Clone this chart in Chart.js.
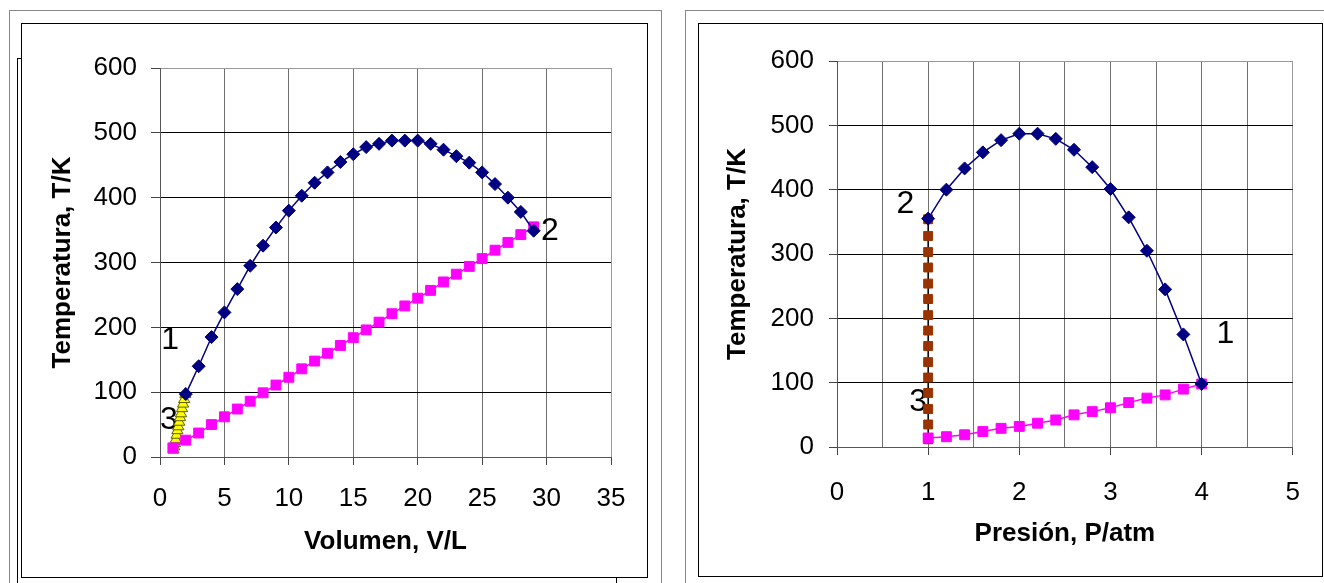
<!DOCTYPE html>
<html>
<head>
<meta charset="UTF-8">
<title>Temperatura frente a Volumen y Presión</title>
<script src="https://cdn.jsdelivr.net/npm/chart.js"></script>
<style>
    body { margin: 0; background: #fff; width: 1324px; height: 583px; overflow: hidden; position: relative; }
    .box { position: absolute; box-sizing: border-box; background: #fff; }
    canvas { position: absolute; }
</style>
</head>
<body>
<div class="box" style="left:9px;top:10px;width:653px;height:620px;border:1px solid #888"></div>
<div class="box" style="left:17px;top:58px;width:600px;height:600px;border:1px solid #000"></div>
<div class="box" style="left:21px;top:23px;width:627px;height:555px;border:1px solid #000"></div>
<div class="box" style="left:685px;top:10px;width:700px;height:620px;border:1px solid #888"></div>
<div class="box" style="left:698px;top:23px;width:625px;height:554px;border:1px solid #000"></div>
<canvas id="volChart" width="624" height="553" style="left:22px;top:24px"></canvas>
<canvas id="presChart" width="623" height="552" style="left:699px;top:24px"></canvas>

<script>
// --- datos ---
// grafica izquierda: T frente a V
var volBlueV = [2, 3, 4, 5, 6, 7, 8, 9, 10, 11, 12, 13, 14, 15, 16, 17, 18, 19, 20, 21, 22, 23, 24, 25, 26, 27, 28, 29];
var volBlueT = [97, 140, 185, 223, 259, 295, 326, 354, 380, 403, 423, 439, 455, 467, 478, 483, 488, 488, 488, 483, 474, 464, 454, 439, 421, 400, 378, 349];
var volPinkV = [1, 2, 3, 4, 5, 6, 7, 8, 9, 10, 11, 12, 13, 14, 15, 16, 17, 18, 19, 20, 21, 22, 23, 24, 25, 26, 27, 28, 29];
var volPinkT = [14, 26, 37, 50, 62, 74, 86, 99, 111, 123, 136, 148, 160, 172, 184, 196, 208, 221, 233, 245, 257, 270, 282, 294, 306, 319, 331, 343, 355];
var volYellowV = [1.05, 1.1, 1.16, 1.22, 1.29, 1.35, 1.42, 1.49, 1.56, 1.63, 1.71, 1.79, 1.88, 1.97];
var volYellowT = [11, 16, 21, 27, 34, 41, 47, 54, 61, 67, 75, 82, 89, 97];
var volLabels = [{ text: '1', x: 0.78, y: 180 }, { text: '2', x: 30.25, y: 348 }, { text: '3', x: 0.7, y: 57 }];

// grafica derecha: T frente a P
var presBlueP = [1, 1.2, 1.4, 1.6, 1.8, 2, 2.2, 2.4, 2.6, 2.8, 3, 3.2, 3.4, 3.6, 3.8, 4];
var presBlueT = [355, 400, 433, 458, 477, 487, 487, 479, 462, 435, 401, 357, 305, 245, 175, 98];
var presPinkP = [1, 1.2, 1.4, 1.6, 1.8, 2, 2.2, 2.4, 2.6, 2.8, 3, 3.2, 3.4, 3.6, 3.8, 4];
var presPinkT = [14, 16, 19, 24, 29, 32, 37, 42, 50, 55, 61, 69, 76, 81, 90, 98];
var presBrownP = [1, 1, 1, 1, 1, 1, 1, 1, 1, 1, 1, 1, 1, 1, 1];
var presBrownT = [354, 328, 303, 279, 254, 230, 205, 181, 157, 132, 108, 84, 59, 35, 12];
var presLabels = [{ text: '2', x: 0.75, y: 377 }, { text: '1', x: 4.26, y: 175 }, { text: '3', x: 0.89, y: 70 }];

// ejes
var tempMax = 600, tempStep = 100;
var volMax = 35, volStep = 5;
var presMax = 5, presStep = 0.5;

var FONT = '"Liberation Sans", Arial, sans-serif';

function pts(xs, ys) {
    var out = [];
    for (var i = 0; i < xs.length; i++) out.push({ x: xs[i], y: ys[i] });
    return out;
}

var numberLabels = {
    id: 'numberLabels',
    beforeDatasetsDraw: function (chart, args, opts) {
        var ctx = chart.ctx, sx = chart.scales.x, sy = chart.scales.y;
        ctx.save();
        ctx.font = '32px ' + FONT;
        ctx.fillStyle = '#000';
        ctx.textAlign = 'center';
        ctx.textBaseline = 'middle';
        opts.items.forEach(function (it) {
            ctx.fillText(it.text, sx.getPixelForValue(it.x), sy.getPixelForValue(it.y));
        });
        ctx.restore();
    }
};

function makeOptions(o) {
    return {
        responsive: false,
        animation: false,
        layout: { padding: { top: o.padTop, right: o.padRight, left: 0, bottom: 0 } },
        plugins: {
            legend: { display: false },
            tooltip: { enabled: false },
            numberLabels: { items: o.labels }
        },
        scales: {
            x: {
                type: 'linear', min: 0, max: o.xMax,
                afterFit: function (s) { s.height = o.xHeight; },
                ticks: {
                    stepSize: o.xStep, color: '#000', padding: o.xTickPad,
                    font: { family: FONT, size: 26 },
                    callback: function (v) { return Number.isInteger(v) ? v : ''; }
                },
                grid: {
                    tickLength: 8,
                    color: function (c) {
                        if (c.tick.value === 0) return '#555';
                        if (c.tick.value === o.xMax) return '#999';
                        return '#707070';
                    },
                    tickColor: function (c) { return Number.isInteger(c.tick.value) ? '#444' : 'rgba(0,0,0,0)'; }
                },
                border: { color: '#555' },
                title: {
                    display: true, text: o.xTitle, color: '#000',
                    font: { family: FONT, size: 26, weight: 'bold' },
                    padding: { top: 0, bottom: o.xTitlePad }
                }
            },
            y: {
                type: 'linear', min: 0, max: tempMax,
                afterFit: function (s) { s.width = 138; },
                ticks: {
                    stepSize: tempStep, color: '#000', padding: o.yTickPad,
                    font: { family: FONT, size: 26 }
                },
                grid: {
                    tickLength: o.yTickLen,
                    color: function (c) {
                        if (c.tick.value === 0) return '#555';
                        if (c.tick.value === tempMax) return '#999';
                        return '#000';
                    },
                    tickColor: '#444'
                },
                border: { color: '#555' },
                title: {
                    display: true, text: 'Temperatura, T/K', color: '#000',
                    font: { family: FONT, size: 26, weight: 'bold' },
                    padding: { top: o.yTitlePad, bottom: 0 }
                }
            }
        }
    };
}

new Chart(document.getElementById('volChart').getContext('2d'), {
    type: 'scatter',
    plugins: [numberLabels],
    data: {
        datasets: [{
            data: pts(volBlueV, volBlueT), showLine: true,
            borderColor: '#000080', borderWidth: 1.5, backgroundColor: '#000080',
            pointStyle: 'rectRot', pointRadius: 6.5, pointBorderWidth: 1
        }, {
            data: pts(volPinkV, volPinkT), showLine: true,
            borderColor: '#FF00FF', borderWidth: 1.5, backgroundColor: '#FF00FF',
            pointStyle: 'rect', pointRadius: 7, pointBorderWidth: 1
        }, {
            data: pts(volYellowV, volYellowT), showLine: true,
            borderColor: '#808000', borderWidth: 1, backgroundColor: '#FFFF00',
            pointStyle: 'triangle', pointRadius: 6.5, pointBorderColor: '#606000', pointBorderWidth: 1
        }]
    },
    options: makeOptions({
        padTop: 44, padRight: 35, xHeight: 120, xMax: volMax, xStep: volStep,
        xTickPad: 18, xTitle: 'Volumen, V/L', xTitlePad: 20,
        yTickLen: 9, yTickPad: 14, yTitlePad: 25, labels: volLabels
    })
});

new Chart(document.getElementById('presChart').getContext('2d'), {
    type: 'scatter',
    plugins: [numberLabels],
    data: {
        datasets: [{
            data: pts(presBlueP, presBlueT), showLine: true,
            borderColor: '#000080', borderWidth: 1.5, backgroundColor: '#000080',
            pointStyle: 'rectRot', pointRadius: 6.5, pointBorderWidth: 1
        }, {
            data: pts(presPinkP, presPinkT), showLine: true,
            borderColor: '#FF00FF', borderWidth: 1.5, backgroundColor: '#FF00FF',
            pointStyle: 'rect', pointRadius: 7, pointBorderWidth: 1
        }, {
            data: pts(presBrownP, presBrownT), showLine: true,
            borderColor: '#000', borderWidth: 1.5, backgroundColor: '#993300',
            pointStyle: 'rect', pointRadius: 6.3, pointBorderColor: '#993300', pointBorderWidth: 1
        }, {
            // la pequena x oscura dentro de cada cuadrado marron
            data: pts(presBrownP, presBrownT), showLine: false,
            borderColor: '#333300', pointStyle: 'crossRot', pointRadius: 2.5, pointBorderWidth: 1
        }]
    },
    options: makeOptions({
        padTop: 37, padRight: 26, xHeight: 129, xMax: presMax, xStep: presStep,
        xTickPad: 22, xTitle: 'Presión, P/atm', xTitlePad: 27,
        yTickLen: 8, yTickPad: 15, yTitlePad: 23, labels: presLabels
    })
});
</script>
</body>
</html>
